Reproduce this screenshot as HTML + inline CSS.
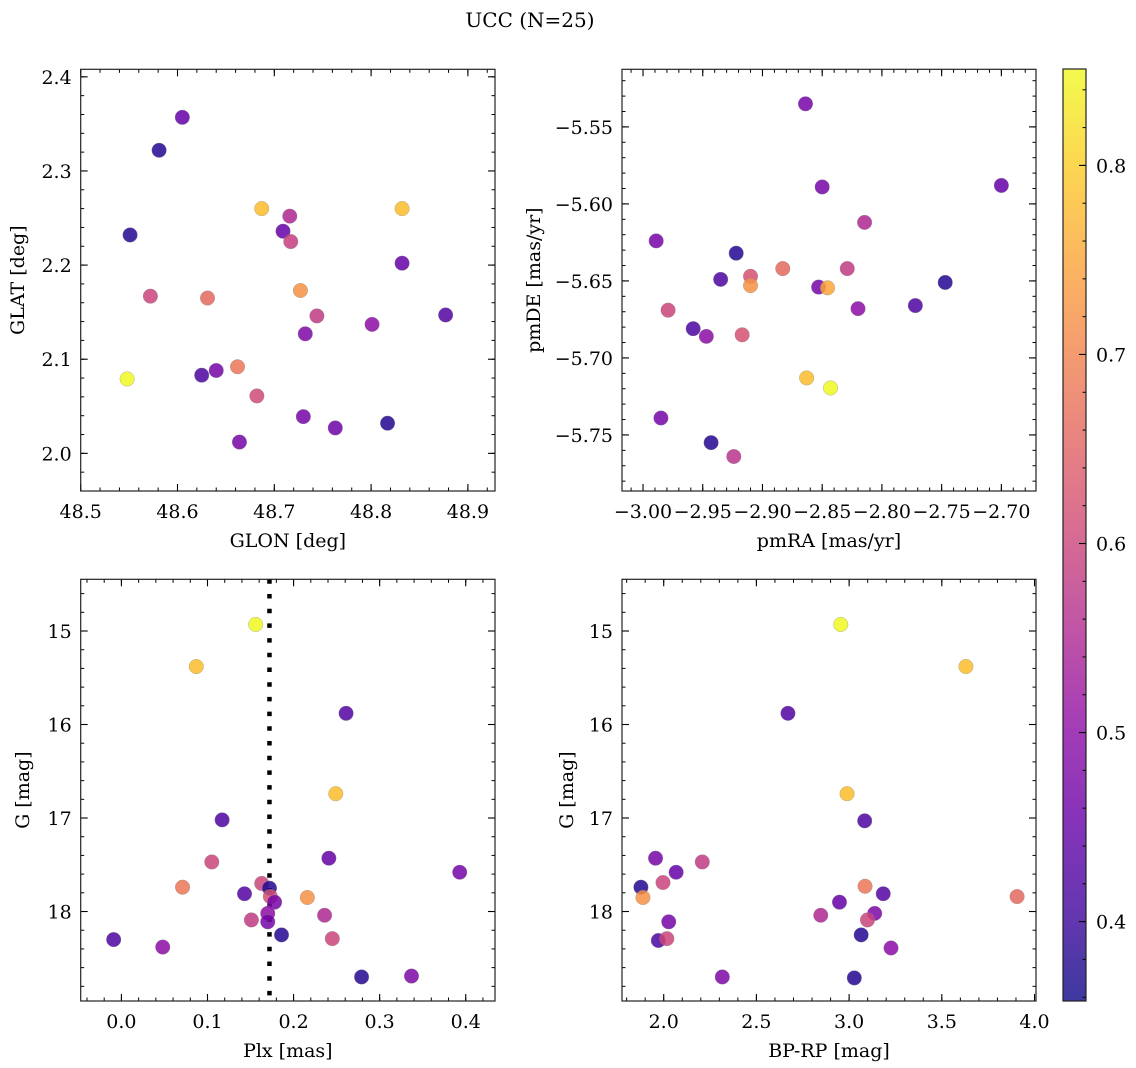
<!DOCTYPE html>
<html><head><meta charset="utf-8"><style>
html,body{margin:0;padding:0;background:#fff;}
svg{display:block;font-family:"DejaVu Serif","Liberation Serif",serif;}
</style></head><body>
<svg id="fig" width="1136" height="1068" viewBox="0 0 1136 1068" xmlns="http://www.w3.org/2000/svg">
<text x="530" y="27" font-size="20" text-anchor="middle">UCC (N=25)</text>
</svg>
<script>
// ---- Panel data ----
const glon = [48.548,48.581,48.605,48.551,48.572,48.631,48.625,48.640,48.662,48.682,48.664,48.687,48.716,48.709,48.717,48.727,48.744,48.732,48.730,48.763,48.817,48.801,48.832,48.832,48.877];
const glat = [2.079,2.322,2.357,2.232,2.167,2.165,2.083,2.088,2.092,2.061,2.012,2.260,2.252,2.236,2.225,2.173,2.146,2.127,2.039,2.027,2.032,2.137,2.260,2.202,2.147];
const cTL  = [0.85,0.38,0.45,0.38,0.60,0.66,0.42,0.47,0.68,0.61,0.47,0.78,0.55,0.45,0.59,0.72,0.58,0.48,0.47,0.46,0.38,0.50,0.78,0.45,0.43];

const pmra = [-2.864,-2.850,-2.700,-2.8145,-2.989,-2.922,-2.935,-2.910,-2.910,-2.883,-2.829,-2.853,-2.8455,-2.747,-2.772,-2.820,-2.979,-2.958,-2.947,-2.917,-2.863,-2.843,-2.985,-2.943,-2.924];
const pmde = [-5.535,-5.589,-5.588,-5.612,-5.624,-5.632,-5.649,-5.647,-5.653,-5.642,-5.642,-5.654,-5.6545,-5.651,-5.666,-5.668,-5.669,-5.681,-5.686,-5.685,-5.713,-5.7195,-5.739,-5.755,-5.764];
const cTR  = [0.47,0.47,0.45,0.55,0.47,0.38,0.42,0.62,0.72,0.66,0.58,0.47,0.75,0.38,0.42,0.50,0.60,0.42,0.50,0.62,0.78,0.85,0.47,0.38,0.57];

const plx  = [0.156,0.087,0.261,0.249,0.117,0.105,0.241,0.393,0.071,0.163,0.172,0.143,0.173,0.178,0.216,0.170,0.170,0.151,0.236,0.186,0.245,-0.009,0.048,0.279,0.337];
const gPlx = [14.93,15.38,15.88,16.74,17.02,17.47,17.43,17.58,17.74,17.70,17.75,17.81,17.84,17.90,17.85,18.02,18.11,18.09,18.04,18.25,18.29,18.30,18.38,18.70,18.69];
const cBL  = [0.85,0.78,0.43,0.78,0.42,0.60,0.45,0.47,0.68,0.60,0.38,0.43,0.62,0.47,0.72,0.50,0.47,0.58,0.55,0.38,0.60,0.42,0.50,0.38,0.48];
const plxLine = 0.172;

const bprp = [2.955,3.630,2.670,2.989,3.084,1.956,2.208,2.067,1.996,1.877,1.888,3.086,3.184,3.906,2.948,2.847,3.138,3.099,2.027,3.065,1.971,2.017,3.226,2.316,3.028];
const gBR  = [14.93,15.38,15.88,16.74,17.03,17.43,17.47,17.58,17.69,17.74,17.85,17.73,17.81,17.84,17.90,18.04,18.02,18.09,18.11,18.25,18.31,18.29,18.39,18.70,18.71];
const cBR  = [0.85,0.78,0.43,0.78,0.42,0.47,0.58,0.45,0.60,0.38,0.72,0.68,0.43,0.66,0.45,0.55,0.48,0.60,0.47,0.38,0.42,0.60,0.50,0.48,0.38];

// ---- Tick labels ----
const tlXTicks = [48.5,48.6,48.7,48.8,48.9];
const tlXLabels = ["48.5","48.6","48.7","48.8","48.9"];
const tlYTicks = [2.0,2.1,2.2,2.3,2.4];
const tlYLabels = ["2.0","2.1","2.2","2.3","2.4"];
const trXTicks = [-3.0,-2.95,-2.9,-2.85,-2.8,-2.75,-2.7];
const trXLabels = ["\u22123.00","\u22122.95","\u22122.90","\u22122.85","\u22122.80","\u22122.75","\u22122.70"];
const trYTicks = [-5.55,-5.6,-5.65,-5.7,-5.75];
const trYLabels = ["\u22125.55","\u22125.60","\u22125.65","\u22125.70","\u22125.75"];
const blXTicks = [0.0,0.1,0.2,0.3,0.4];
const blXLabels = ["0.0","0.1","0.2","0.3","0.4"];
const gTicks = [15,16,17,18];
const gLabels = ["15","16","17","18"];
const brXTicks = [2.0,2.5,3.0,3.5,4.0];
const brXLabels = ["2.0","2.5","3.0","3.5","4.0"];
const cbTicks = [0.4,0.5,0.6,0.7,0.8];
const cbLabels = ["0.4","0.5","0.6","0.7","0.8"];
const cbMin = 0.358, cbMax = 0.851;

const NS = "http://www.w3.org/2000/svg";
const svg = document.getElementById('fig');
const FS = 19;
function mk(tag, attrs, parent){ const e=document.createElementNS(NS,tag); for(const k in attrs) e.setAttribute(k,attrs[k]); (parent||svg).appendChild(e); return e; }

const stops = ["#0d0887","#41049d","#6a00a8","#8f0da4","#b12a90","#cc4778","#e16462","#f2844b","#fca636","#fcce25","#f0f921"];
function hex(h){return [parseInt(h.substr(1,2),16),parseInt(h.substr(3,2),16),parseInt(h.substr(5,2),16)];}
function plasma(t){ t=Math.max(0,Math.min(1,t)); const f=t*10, i=Math.min(9,Math.floor(f)), u=f-i; const a=hex(stops[i]), b=hex(stops[i+1]);
  return "rgb("+a.map((v,k)=>Math.round(v+(b[k]-v)*u)).join(",")+")"; }
function cmap(v){ return plasma((v-cbMin)/(cbMax-cbMin)); }

function panel(o){
  const {L,R,T,B,xmin,xmax,ymin,ymax,invY,name} = o;
  const g = mk('g',{});
  
  
  const sx = v => L + (v-xmin)/(xmax-xmin)*(R-L);
  const sy = v => invY ? T + (v-ymin)/(ymax-ymin)*(B-T) : B - (v-ymin)/(ymax-ymin)*(B-T);
  for(let v=Math.ceil(xmin/o.xMinor-1e-6)*o.xMinor; v<=xmax+1e-9; v+=o.xMinor){
    const x=sx(v); mk('line',{x1:x,x2:x,y1:B,y2:B-3.5,stroke:'#000','stroke-width':1},g); mk('line',{x1:x,x2:x,y1:T,y2:T+3.5,stroke:'#000','stroke-width':1},g);
  }
  for(let v=Math.ceil(ymin/o.yMinor-1e-6)*o.yMinor; v<=ymax+1e-9; v+=o.yMinor){
    const y=sy(v); mk('line',{x1:L,x2:L+3.5,y1:y,y2:y,stroke:'#000','stroke-width':1},g); mk('line',{x1:R,x2:R-3.5,y1:y,y2:y,stroke:'#000','stroke-width':1},g);
  }
  o.xTicks.forEach((v,i)=>{ const x=sx(v);
    mk('line',{x1:x,x2:x,y1:B,y2:B-7,stroke:'#000','stroke-width':1.1},g); mk('line',{x1:x,x2:x,y1:T,y2:T+7,stroke:'#000','stroke-width':1.1},g);
    const t=mk('text',{x:x,y:B+27,'font-size':FS,'text-anchor':'middle'},g); t.textContent=o.xLabels[i];
    
    
  });
  o.yTicks.forEach((v,i)=>{ const y=sy(v);
    mk('line',{x1:L,x2:L+7,y1:y,y2:y,stroke:'#000','stroke-width':1.1},g); mk('line',{x1:R,x2:R-7,y1:y,y2:y,stroke:'#000','stroke-width':1.1},g);
    const t=mk('text',{x:L-9,y:y+7,'font-size':FS,'text-anchor':'end'},g); t.textContent=o.yLabels[i];
    
    
  });
  if(o.vline!==undefined){ const x=sx(o.vline);
    const ln=mk('line',{x1:x,x2:x,y1:T,y2:B,stroke:'#000','stroke-width':4.5,'stroke-dasharray':'4.5 10.2'},g);
    
    
  }
  o.xs.forEach((v,i)=>{
    const c=mk('circle',{cx:sx(v),cy:sy(o.ys[i]),r:7.3,fill:cmap(o.cs[i]),'fill-opacity':0.85,stroke:'#888','stroke-width':0.5,'stroke-opacity':0.6},g);
    
    
  });
  mk('rect',{x:L,y:T,width:R-L,height:B-T,fill:'none',stroke:'#222','stroke-width':1.2},g);
  const xl=mk('text',{x:(L+R)/2,y:B+56,'font-size':FS,'text-anchor':'middle'},g); xl.textContent=o.xTitle;
  
  
  const yl=mk('text',{x:0,y:0,'font-size':FS,'text-anchor':'middle',transform:`translate(${o.yTitleX},${(T+B)/2}) rotate(-90)`},g); yl.textContent=o.yTitle;
  
  
}

panel({name:'glon-glat-panel',L:80.7,R:495,T:69.3,B:491,xmin:48.5,xmax:48.928,ymin:1.960,ymax:2.408,xMinor:0.02,yMinor:0.02,
  xTicks:tlXTicks,xLabels:tlXLabels,yTicks:tlYTicks,yLabels:tlYLabels,xs:glon,ys:glat,cs:cTL,xTitle:'GLON [deg]',yTitle:'GLAT [deg]',yTitleX:24});
panel({name:'pm-panel',L:622,R:1036,T:69.3,B:491,xmin:-3.0176,xmax:-2.6710,ymin:-5.7864,ymax:-5.5126,xMinor:0.01,yMinor:0.01,
  xTicks:trXTicks,xLabels:trXLabels,yTicks:trYTicks,yLabels:trYLabels,xs:pmra,ys:pmde,cs:cTR,xTitle:'pmRA [mas/yr]',yTitle:'pmDE [mas/yr]',yTitleX:540});
panel({name:'plx-g-panel',L:80.7,R:495,T:579.3,B:1001,xmin:-0.0473,xmax:0.434,ymin:14.447,ymax:18.957,invY:true,xMinor:0.02,yMinor:0.2,
  xTicks:blXTicks,xLabels:blXLabels,yTicks:gTicks,yLabels:gLabels,xs:plx,ys:gPlx,cs:cBL,vline:plxLine,xTitle:'Plx [mas]',yTitle:'G [mag]',yTitleX:29});
panel({name:'cmd-panel',L:622,R:1036,T:579.3,B:1001,xmin:1.775,xmax:4.008,ymin:14.447,ymax:18.957,invY:true,xMinor:0.1,yMinor:0.2,
  xTicks:brXTicks,xLabels:brXLabels,yTicks:gTicks,yLabels:gLabels,xs:bprp,ys:gBR,cs:cBR,xTitle:'BP-RP [mag]',yTitle:'G [mag]',yTitleX:573});

(function(){
  const L=1063,R=1086,T=69,B=1001;
  const cb=mk('g',{});
  
  
  const defs=mk('defs',{},cb);
  const lg=mk('linearGradient',{id:'cbg',x1:0,y1:1,x2:0,y2:0},defs);
  stops.forEach((s,i)=>mk('stop',{offset:i/10,'stop-color':s},lg));
  mk('rect',{x:L,y:T,width:R-L,height:B-T,fill:'url(#cbg)','fill-opacity':0.8},cb);
  const sy=v=>B-(v-cbMin)/(cbMax-cbMin)*(B-T);
  for(let v=0.36; v<=cbMax+1e-9; v+=0.02){ const y=sy(v); mk('line',{x1:R,x2:R-3.5,y1:y,y2:y,stroke:'#000','stroke-width':1},cb); }
  cbTicks.forEach((v,i)=>{ const y=sy(v);
    mk('line',{x1:R,x2:R-7,y1:y,y2:y,stroke:'#000','stroke-width':1.1},cb);
    const t=mk('text',{x:R+10,y:y+7,'font-size':FS},cb); t.textContent=cbLabels[i];
    
    
  });
  mk('rect',{x:L,y:T,width:R-L,height:B-T,fill:'none',stroke:'#222','stroke-width':1.2},cb);
})();
</script>
</body></html>
